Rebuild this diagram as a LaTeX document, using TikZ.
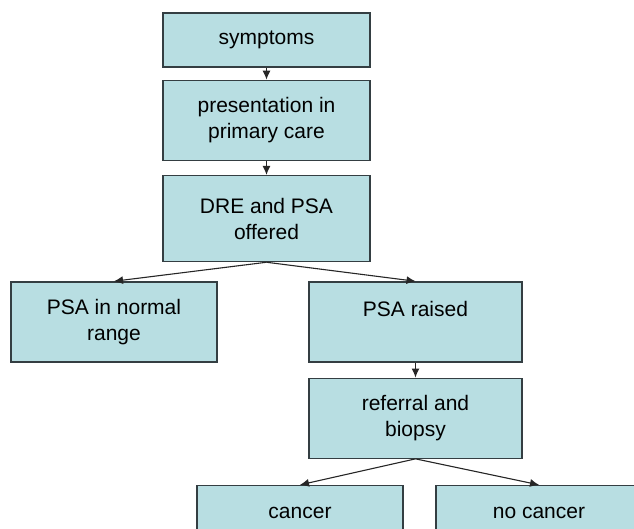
\documentclass[tikz,border=0pt]{standalone}
\usepackage{fontspec}
\setmainfont{Liberation Sans}
\usetikzlibrary{positioning,arrows.meta}
\definecolor{boxfill}{RGB}{184,222,226}
\definecolor{boxline}{RGB}{52,62,66}
\tikzset{
stage/.style={
	  draw=boxline, line width=1.3pt, fill=boxfill, align=center,
	    inner sep=0pt, minimum width=207pt, minimum height=80pt,
    font=\fontsize{21}{26}\selectfont}
}

\begin{document}
\begin{tikzpicture}[x=1pt, y=1pt, flow/.style={line width=1.1pt, draw=black!85, -{Latex[length=9pt,width=8pt]}}]
	\useasboundingbox (0,0) rectangle (634,-529);
	\clip (0,0) rectangle (634,-529);
	\node[stage, minimum height=54pt] (symp) at (266.5,-40) {symptoms};
	\node[stage, below=12pt of symp] (care) {presentation in\\primary care};
	\node[stage, below=14pt of care, minimum height=86pt] (dre) {DRE and PSA\\offered};
	\node[stage, below=19pt of dre, xshift=-152.5pt, minimum width=206pt] (normal) {PSA in normal\\range};
	\node[stage, below=19pt of dre, xshift=149pt, minimum width=213pt] (raised) {PSA raised\\~};
	\node[stage, below=15pt of raised, minimum width=213pt] (biopsy) {referral and\\biopsy};
	\node[stage, below=26pt of biopsy, xshift=-115.5pt, minimum width=206pt] (cancer) {cancer\\~};
	\node[stage, below=26pt of biopsy, xshift=123.5pt, minimum width=206pt] (nocancer) {no cancer\\~};
	\draw[flow] (symp) -- (care);
	\draw[flow] (care) -- (dre);
	\draw[flow] (dre.south) -- (normal.north);
	\draw[flow] (dre.south) -- (raised.north);
	\draw[flow] (raised) -- (biopsy);
	\draw[flow] (biopsy.south) -- (cancer.north);
	\draw[flow] (biopsy.south) -- (nocancer.north);
\end{tikzpicture}
\end{document}
